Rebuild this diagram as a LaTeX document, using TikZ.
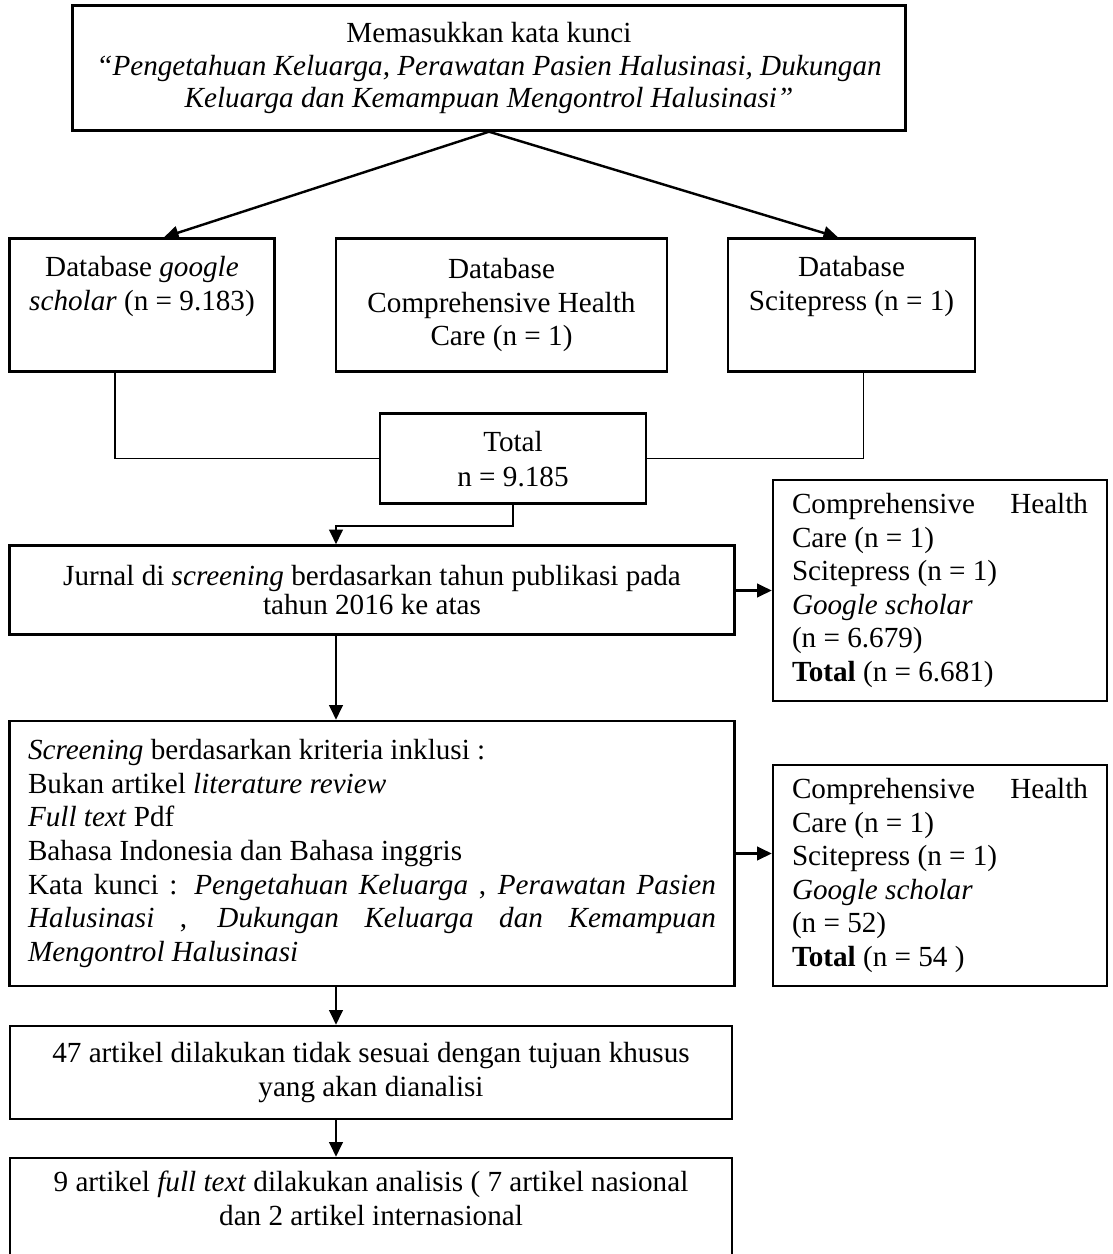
\documentclass[tikz,border=0pt]{standalone}
\usepackage{fontspec}
\setmainfont{Liberation Serif}
\usetikzlibrary{arrows.meta}
\newdimen\px \px=0.4115pt

\begin{document}
\begin{tikzpicture}[x=0.4115pt,y=-0.4115pt,
	kotak/.style={draw,line width=1pt,inner sep=0pt,align=center,font=\fontsize{12pt}{13.8pt}\selectfont},
	panah/.style={line width=1pt,-{Triangle[length=6pt,width=5.5pt]}},
	garis/.style={line width=0.6pt}]
		\useasboundingbox (0,0) rectangle (1112,1254);
		\node[kotak,minimum width=833\px,minimum height=125\px,font=\fontsize{12pt}{13.2pt}\selectfont] (kunci) at (489,68) {Memasukkan kata kunci\\ \textit{“Pengetahuan Keluarga, Perawatan Pasien Halusinasi, Dukungan}\\ \textit{Keluarga dan Kemampuan Mengontrol Halusinasi”}};
		\node[kotak,minimum width=265\px,minimum height=133\px] (gs) at (142,305) {Database \textit{google}\\ \textit{scholar} (n = 9.183)\\ \strut};
		\node[kotak,minimum width=331\px,minimum height=133\px] (chc) at (501.5,305) {Database\\ Comprehensive Health\\ Care (n = 1)};
		\node[kotak,minimum width=247\px,minimum height=133\px] (sp) at (851.5,305) {Database\\ Scitepress (n = 1)\\ \strut};
		\node[kotak,minimum width=266\px,minimum height=90\px,font=\fontsize{12pt}{14.4pt}\selectfont] (total) at (513,458.6) {Total\\ n = 9.185};
		\node[kotak,minimum width=725\px,minimum height=89\px,font=\fontsize{12pt}{11.8pt}\selectfont] (jurnal) at (372,590) {Jurnal di \textit{screening} berdasarkan tahun publikasi pada\\ tahun 2016 ke atas};
		\node[kotak,minimum width=334\px,minimum height=221\px,text width=296\px,align=justify] (eks1) at (940,590.5) {Comprehensive Health\linebreak Care (n = 1)\\ Scitepress (n = 1)\\ \textit{Google scholar}\\ (n = 6.679)\\ \textbf{Total} (n = 6.681)};
		\node[kotak,minimum width=725\px,minimum height=265\px,text width=688\px,align=justify] (saring) at (372,853.5) {\textit{Screening} berdasarkan kriteria inklusi :\\ Bukan artikel \textit{literature review}\\ \textit{Full text} Pdf\\ Bahasa Indonesia dan Bahasa inggris\\ Kata kunci : \textit{Pengetahuan Keluarga} , \textit{Perawatan Pasien}\linebreak \textit{Halusinasi} , \textit{Dukungan Keluarga dan Kemampuan}\linebreak \textit{Mengontrol Halusinasi}};
		\node[kotak,minimum width=334\px,minimum height=221\px,text width=296\px,align=justify] (eks2) at (940,875.5) {Comprehensive Health\linebreak Care (n = 1)\\ Scitepress (n = 1)\\ \textit{Google scholar}\\ (n = 52)\\ \textbf{Total} (n = 54 )};
		\node[kotak,minimum width=722\px,minimum height=93\px] (khusus) at (371,1072.5) {47 artikel dilakukan tidak sesuai dengan tujuan khusus\\ yang akan dianalisi};
		\node[kotak,minimum width=722\px,minimum height=124\px] (hasil) at (371,1220) {9 artikel \textit{full text} dilakukan analisis ( 7 artikel nasional\\ dan 2 artikel internasional\\ \strut};
		\draw[panah] (kunci.south) -- ([xshift=22\px]gs.north);
		\draw[panah] (kunci.south) -- ([xshift=-13.5\px]sp.north);
		\draw[garis] ([xshift=-27\px]gs.south) |- (total.west);
		\draw[garis] ([xshift=12\px]sp.south) |- (total.east);
		\draw[panah] (total.south) -- ++(0,21) -| ([xshift=-36\px]jurnal.north);
		\draw[panah] (eks1.west -| jurnal.east) -- (eks1.west);
		\draw[panah] ([xshift=-36\px]jurnal.south) -- ([xshift=-36\px]saring.north);
		\draw[panah] (saring.east) -- (saring.east -| eks2.west);
		\draw[panah] ([xshift=-36\px]saring.south) -- ([xshift=-35\px]khusus.north);
		\draw[panah] ([xshift=-35\px]khusus.south) -- ([xshift=-35\px]hasil.north);
	\end{tikzpicture}
\end{document}
